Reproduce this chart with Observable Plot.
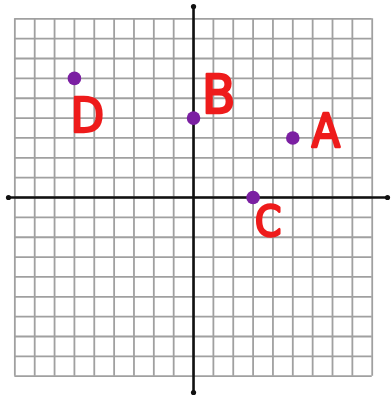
<!DOCTYPE html>
<html>
<head>
<meta charset="utf-8">
<script src="https://cdn.jsdelivr.net/npm/d3@7"></script>
<script src="https://cdn.jsdelivr.net/npm/@observablehq/plot@0.6"></script>
<style>
  html, body { margin: 0; padding: 0; background: #fff; }
  #chart svg { display: block; filter: blur(0.6px); }
</style>
</head>
<body>
<div id="chart"></div>
<script>
// Plotted points on the coordinate plane
const pointNames = ["A", "B", "C", "D"];
const xValues = [5, 0, 3, -6];
const yValues = [3, 4, 0, 6];

// Grid lines at every integer from -9 to 9
const gridTicks = [-9, -8, -7, -6, -5, -4, -3, -2, -1, 0, 1, 2, 3, 4, 5, 6, 7, 8, 9];

const points = pointNames.map((name, i) => ({ name, x: xValues[i], y: yValues[i] }));

// Where each letter sits relative to its dot (pixels), and its size
const labelOffset = { A: [33, -6], B: [25, -22], C: [15, 25], D: [13, 38] };
const labelSize = { A: 46, B: 54, C: 42, D: 48 };

const gMin = gridTicks[0], gMax = gridTicks[gridTicks.length - 1];
const xAxisEnds = [-9.32, 9.77];
const yAxisEnds = [-9.82, 9.62];

const chart = Plot.plot({
  width: 391,
  height: 398,
  marginLeft: 8,
  marginRight: 4,
  marginTop: 6,
  marginBottom: 6,
  x: { domain: xAxisEnds, axis: null },
  y: { domain: yAxisEnds, axis: null },
  marks: [
    // grid
    Plot.ruleX(gridTicks, { y1: gMin, y2: gMax, stroke: "#a0a0a0", strokeWidth: 1.8 }),
    Plot.ruleY(gridTicks, { x1: gMin, x2: gMax, stroke: "#a0a0a0", strokeWidth: 1.8 }),
    // axes
    Plot.ruleY([0], { x1: xAxisEnds[0], x2: xAxisEnds[1], stroke: "#111", strokeWidth: 2.6 }),
    Plot.ruleX([0], { y1: yAxisEnds[0], y2: yAxisEnds[1], stroke: "#111", strokeWidth: 2.6 }),
    Plot.dot(
      [[xAxisEnds[0], 0], [xAxisEnds[1], 0], [0, yAxisEnds[0]], [0, yAxisEnds[1]]],
      { x: d => d[0], y: d => d[1], r: 2.6, fill: "#111", stroke: "none" }
    ),
    // points
    Plot.dot(points, { x: "x", y: "y", r: 6.8, fill: "#7b1fa2", stroke: "none" }),
    // letters
    ...pointNames.map(n => Plot.text(points.filter(p => p.name === n), {
      x: "x", y: "y", text: "name",
      dx: labelOffset[n][0], dy: labelOffset[n][1],
      fontSize: labelSize[n], fontWeight: "normal",
      fontFamily: "DejaVu Sans Condensed, DejaVu Sans",
      fill: "#ee1b1b", stroke: "#ee1b1b", strokeWidth: 2.4,
      strokeLinejoin: "round",
      textAnchor: "middle", lineAnchor: "middle"
    }))
  ]
});

document.getElementById("chart").appendChild(chart);
</script>
</body>
</html>
